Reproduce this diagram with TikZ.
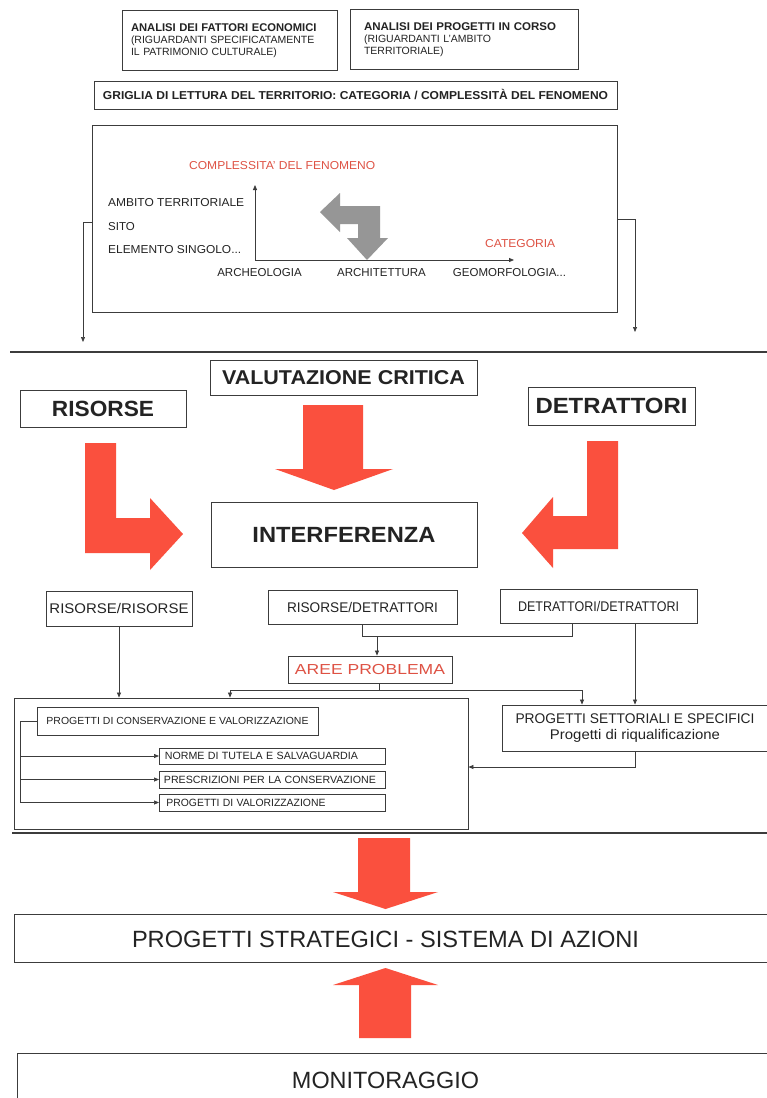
\documentclass[tikz,border=0pt]{standalone}
\usepackage{fontspec}
\setmainfont{Liberation Sans}
\usepackage{graphicx}
\usetikzlibrary{arrows.meta}
\definecolor{arrred}{RGB}{250,80,62}
\definecolor{txtred}{RGB}{222,82,68}
\definecolor{ln}{RGB}{60,60,60}
\definecolor{txt}{RGB}{35,35,35}
\definecolor{grayarr}{RGB}{150,150,150}
\newcommand\fitw[2]{\resizebox{#1pt}{\height}{#2}}
\newcommand\fsz[1]{\fontsize{#1}{#1}\selectfont}
\begin{document}
\begin{tikzpicture}[x=1pt,y=-1pt,
  box/.style={draw=ln, line width=0.9pt, inner sep=0pt, text=txt},
  lab/.style={inner sep=0pt, text=txt},
  conn/.style={draw=ln, line width=0.7pt},
  arr/.style={conn, -{Triangle[length=5pt,width=4pt]}},
  bigarrow/.style={fill=arrred, draw=none},
  sep/.style={draw=ln, line width=1.3pt}]
\clip (0,0) rectangle (767,1098);
\useasboundingbox (0,0) rectangle (767,1098);
\fill[white] (0,0) rectangle (767,1098);

% ---------- top section ----------
\node[box, minimum width=215pt, minimum height=60pt, text width=197pt, align=left,
  font=\fontsize{10.5}{12.3}\selectfont] (f1) at (229.5,40.5)
  {{\fontsize{11.2}{12.3}\selectfont\bfseries ANALISI DEI FATTORI ECONOMICI}\\
   (RIGUARDANTI SPECIFICATAMENTE\\ IL PATRIMONIO CULTURALE)};
\node[box, minimum width=228pt, minimum height=60pt, text width=200pt, align=left,
  font=\fontsize{10.5}{12.3}\selectfont] (f2) at (464,39.5)
  {{\fontsize{11.2}{12.3}\selectfont\bfseries\fitw{192}{ANALISI DEI PROGETTI IN CORSO}}\\
   (RIGUARDANTI L'AMBITO\\ TERRITORIALE)};
\node[box, minimum width=523pt, minimum height=28pt] (gr) at (355.5,95)
  {\fsz{11.5}\bfseries\fitw{505}{GRIGLIA DI LETTURA DEL TERRITORIO: CATEGORIA / COMPLESSITÀ DEL FENOMENO}};

\node[box, minimum width=525pt, minimum height=187pt] (bigbox) at (355.25,218.5) {};

\node[lab, anchor=west, text=txtred, font=\fsz{11.5}] (cf) at (189,166) {\fitw{186}{COMPLESSITA' DEL FENOMENO}};
\node[lab, anchor=west, text=txtred, font=\fsz{11.5}] (cat) at (485,244) {\fitw{70}{CATEGORIA}};
\node[lab, anchor=west, font=\fsz{11.5}] (amb) at (108,203) {\fitw{136}{AMBITO TERRITORIALE}};
\node[lab, anchor=west, font=\fsz{11.5}] (sito) at (108,227) {SITO};
\node[lab, anchor=west, font=\fsz{11.5}] (el) at (108,250) {\fitw{133}{ELEMENTO SINGOLO...}};
\node[lab, font=\fsz{11.5}] (arc) at (259.5,273) {ARCHEOLOGIA};
\node[lab, font=\fsz{11.5}] (arch) at (381.5,273) {ARCHITETTURA};
\node[lab, font=\fsz{11.5}] (geo) at (509.5,273) {GEOMORFOLOGIA...};

\coordinate (o) at (255,260);
\coordinate (ytop) at (255,185);
\coordinate (xend) at (514,260);
\draw[arr, line width=0.8pt] (o) -- (ytop);
\draw[arr, line width=0.8pt] (o) -- (xend);

% grey L arrow
\fill[grayarr] (320,212) -- (340,193) -- (340,206) -- (380,206) -- (380,238) -- (388,238)
  -- (367,260) -- (347,238) -- (358,238) -- (358,224) -- (340,224) -- (340,232) -- cycle;

% side connectors
\coordinate (lc) at (83,342);
\coordinate (rc) at (635,332);
\draw[arr] ([yshift=-3.5pt]bigbox.west) -| (lc);
\draw[arr] ([yshift=-0.5pt]bigbox.east) -| (rc);

% separator
\draw[sep] (10,352) -- (767,352);

% ---------- middle section ----------
\node[box, minimum width=267pt, minimum height=35pt] (val) at (343.5,377.5)
  {\fsz{20}\bfseries\fitw{243}{VALUTAZIONE CRITICA}};
\node[box, minimum width=166pt, minimum height=37pt] (ris) at (103,408.5)
  {\fsz{22}\bfseries\fitw{102}{RISORSE}};
\node[box, minimum width=167pt, minimum height=38pt] (det) at (611.5,406)
  {\fsz{22}\bfseries\fitw{152}{DETRATTORI}};
\node[box, minimum width=266pt, minimum height=65pt] (intf) at (344,534.5)
  {\fsz{22}\bfseries\fitw{183}{INTERFERENZA}};

\fill[bigarrow] (85,443) -- (116,443) -- (116,518) -- (150,518) -- (150,498) -- (183,534)
  -- (150,570) -- (150,553) -- (85,553) -- cycle;
\fill[bigarrow] (618,441) -- (587,441) -- (587,516) -- (553,516) -- (553,497) -- (522,533)
  -- (553,568) -- (553,549) -- (618,549) -- cycle;
\fill[bigarrow] (303,405) -- (363,405) -- (363,469) -- (393,469) -- (334,490) -- (275,469)
  -- (303,469) -- cycle;

% ---------- lower section ----------
\node[box, minimum width=146pt, minimum height=35pt] (rr) at (119,608.5)
  {\fsz{14}\fitw{139}{RISORSE/RISORSE}};
\node[box, minimum width=189pt, minimum height=34pt] (rd) at (362.5,607)
  {\fsz{14}\fitw{151}{RISORSE/DETRATTORI}};
\node[box, minimum width=197pt, minimum height=34pt] (dd) at (598.5,606)
  {\fsz{14}\fitw{161}{DETRATTORI/DETRATTORI}};
\node[box, minimum width=164pt, minimum height=27pt] (aree) at (370,669.5)
  {\fsz{14.5}\color{txtred}\fitw{150}{AREE PROBLEMA}};

\node[box, minimum width=454pt, minimum height=131pt] (cvbox) at (241,763.5) {};
\node[box, minimum width=281pt, minimum height=28pt] (pcv) at (177.5,721)
  {\fsz{10.3}\fitw{262}{PROGETTI DI CONSERVAZIONE E VALORIZZAZIONE}};
\node[box, minimum width=226pt, minimum height=16pt, anchor=west, inner xsep=5.5pt,
  text width=215pt, align=left] (nor) at (159,756)
  {\fsz{10.5}\fitw{193}{NORME DI TUTELA E SALVAGUARDIA}};
\node[box, minimum width=226pt, minimum height=17pt, anchor=west, inner xsep=4.5pt,
  text width=217pt, align=left] (pre) at (159,779.5)
  {\fsz{10.5}\fitw{212}{PRESCRIZIONI PER LA CONSERVAZIONE}};
\node[box, minimum width=226pt, minimum height=17pt, anchor=west, inner xsep=7pt,
  text width=212pt, align=left] (pv) at (159,802.5)
  {\fsz{10.5}\fitw{159}{PROGETTI DI VALORIZZAZIONE}};

\node[box, minimum width=266pt, minimum height=46pt, align=center,
  font=\fontsize{14}{16}\selectfont] (ps) at (635,728)
  {\fitw{239}{PROGETTI SETTORIALI E SPECIFICI}\\ \fitw{170}{Progetti di riqualificazione}};

% connectors lower section
\coordinate (j1) at (377,636);
\draw[conn] (rd.south) -- (rd.south |- j1) -| ([xshift=-26.5pt]dd.south);
\draw[arr] (j1) -- (j1 |- aree.north);
\coordinate (j2) at (379,690);
\coordinate (c230) at (230,690);
\coordinate (c582) at (582,690);
\draw[conn] (aree.south -| j2) -- (j2);
\draw[conn] (c230) -- (c582);
\draw[arr] (c230) -- (c230 |- cvbox.north);
\draw[arr] (c582) -- (c582 |- ps.north);
\draw[arr] (rr.south) -- (rr.south |- cvbox.north);
\draw[arr] ([xshift=36.5pt]dd.south) -- ([xshift=36.5pt]dd.south |- ps.north);
\coordinate (c767) at (635,767);
\draw[arr] (ps.south) -- (c767) -- (c767 -| cvbox.east);

\coordinate (bx) at (20,721);
\draw[conn] (pcv.west) -- (bx) -- (bx |- pv.west);
\draw[arr] (bx |- nor.west) -- (nor.west);
\draw[arr] (bx |- pre.west) -- (pre.west);
\draw[arr] (bx |- pv.west) -- (pv.west);

% separator
\draw[sep] (12,833) -- (767,833);

% ---------- bottom section ----------
\fill[bigarrow] (358,838) -- (410,838) -- (410,892) -- (438,892) -- (385.5,909) -- (333,892)
  -- (358,892) -- cycle;
\node[box, minimum width=766pt, minimum height=48pt] (strat) at (397,938) {};
\node[lab, font=\fsz{23.5}] (stratt) at (385.5,939) {\fitw{507}{PROGETTI STRATEGICI - SISTEMA DI AZIONI}};
\fill[bigarrow] (385.5,968) -- (438,985) -- (411,985) -- (411,1038) -- (359,1038) -- (359,985)
  -- (333,985) -- cycle;
\node[box, minimum width=763pt, minimum height=70pt] (mon) at (398.5,1088) {};
\node[lab, font=\fsz{23.5}] (mont) at (385.5,1080) {\fitw{187}{MONITORAGGIO}};
\end{tikzpicture}
\end{document}
